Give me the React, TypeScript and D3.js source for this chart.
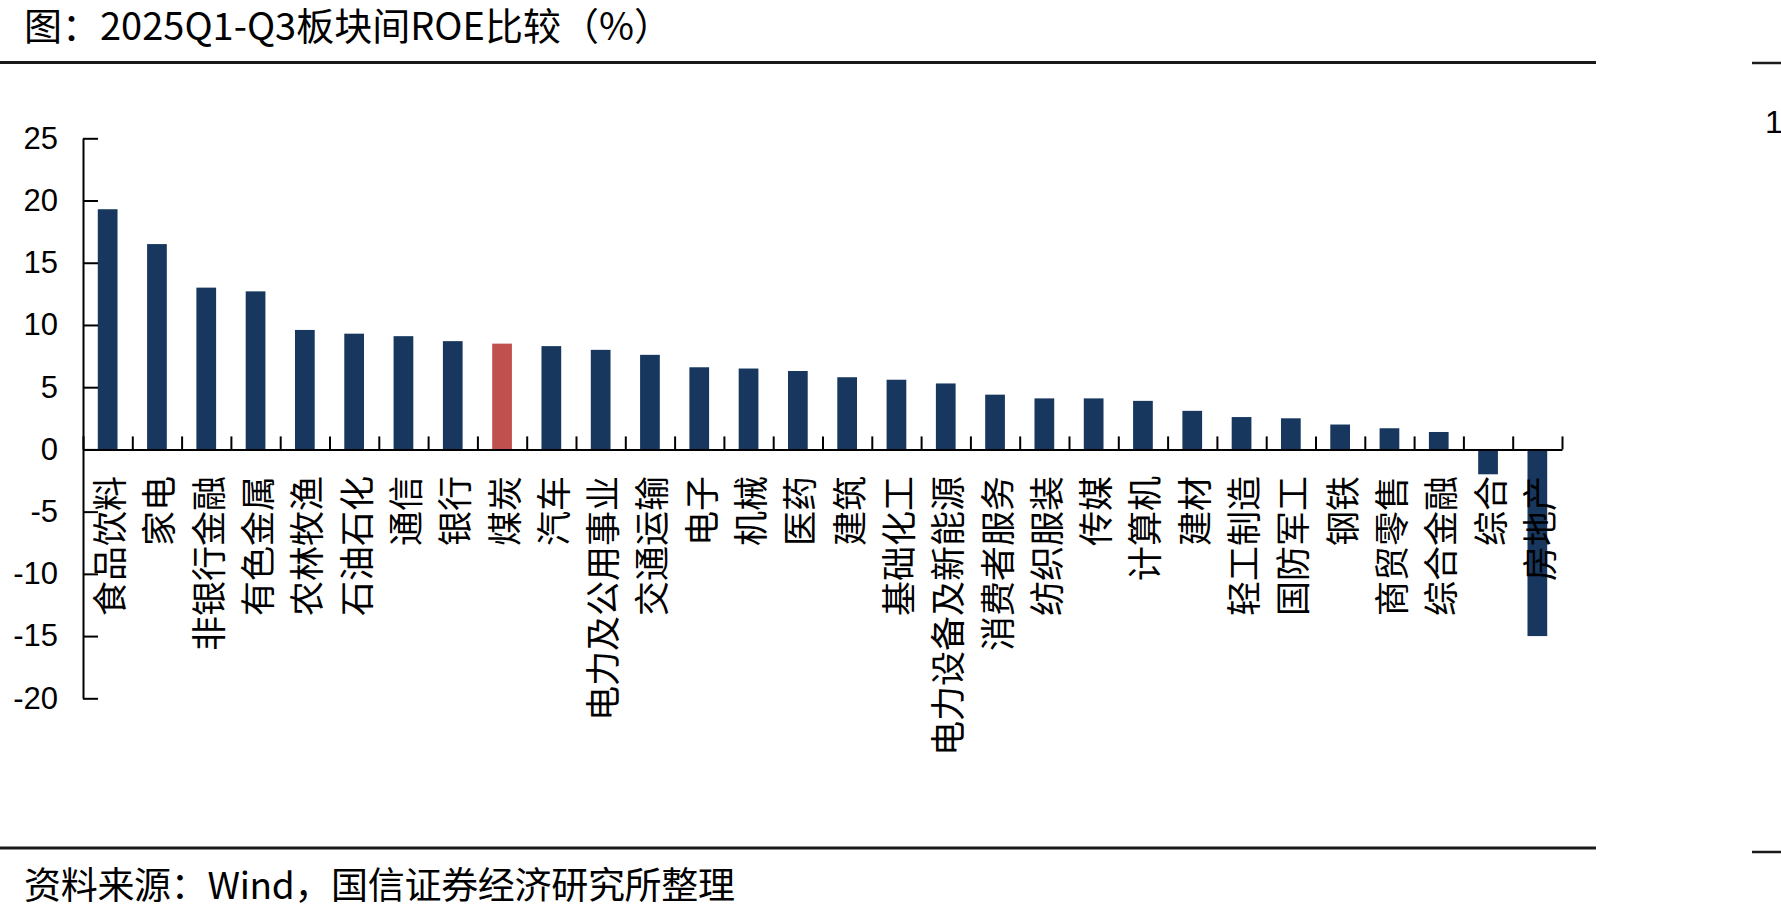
import React, { useEffect, useRef } from 'react';
import * as d3 from 'd3';

const title = '图：2025Q1-Q3板块间ROE比较（%）';
const source = '资料来源：Wind，国信证券经济研究所整理';

const categories = [
  '食品饮料', '家电', '非银行金融', '有色金属', '农林牧渔', '石油石化', '通信', '银行', '煤炭', '汽车',
  '电力及公用事业', '交通运输', '电子', '机械', '医药', '建筑', '基础化工', '电力设备及新能源', '消费者服务', '纺织服装',
  '传媒', '计算机', '建材', '轻工制造', '国防军工', '钢铁', '商贸零售', '综合金融', '综合', '房地产',
];
const roe = [
  19.3, 16.5, 13.0, 12.7, 9.6, 9.3, 9.1, 8.7, 8.5, 8.3,
  8.0, 7.6, 6.6, 6.5, 6.3, 5.8, 5.6, 5.3, 4.4, 4.1,
  4.1, 3.9, 3.1, 2.6, 2.5, 2.0, 1.7, 1.4, -2.0, -15.0,
];
const highlighted = '煤炭';
const yTicks = [25, 20, 15, 10, 5, 0, -5, -10, -15, -20];

const cjk = '"Noto Sans CJK SC", sans-serif';
const arial = '"Liberation Sans", Arial, sans-serif';
const navy = '#17375E';
const red = '#C0504D';

const App: React.FC = () => {
  const svgRef = useRef<SVGSVGElement>(null);

  useEffect(() => {
    const width = 1781;
    const height = 919;
    const plotLeft = 83;
    const plotRight = 1562;
    const svg = d3.select(svgRef.current)
      .attr('width', width)
      .attr('height', height)
      .attr('viewBox', [0, 0, width, height]);

    svg.selectAll('*').remove();

    const x = d3.scaleBand<string>().domain(categories).range([plotLeft, plotRight]).padding(0);
    const y = d3.scaleLinear().domain([-20, 25]).range([698.3, 138.3]);
    const barW = x.bandwidth() * 0.4;

    // title + rules
    svg.append('text')
      .attr('x', 24).attr('y', 40)
      .attr('font-family', cjk).attr('font-size', 38)
      .attr('textLength', 648)
      .text(title);
    svg.append('line').attr('x1', 0).attr('x2', 1596).attr('y1', 62.5).attr('y2', 62.5)
      .attr('stroke', '#1a1a1a').attr('stroke-width', 3);
    svg.append('line').attr('x1', 1752).attr('x2', width).attr('y1', 63).attr('y2', 63)
      .attr('stroke', '#1a1a1a').attr('stroke-width', 2.5);
    svg.append('text')
      .attr('x', 1765).attr('y', 133)
      .attr('font-family', arial).attr('font-size', 32)
      .text('1');

    // bars
    svg.append('g')
      .selectAll('rect')
      .data(categories)
      .join('rect')
      .attr('x', d => x(d)! + (x.bandwidth() - barW) / 2)
      .attr('width', barW)
      .attr('y', (d, i) => y(Math.max(0, roe[i])))
      .attr('height', (d, i) => Math.abs(y(roe[i]) - y(0)))
      .attr('fill', d => d === highlighted ? red : navy);

    // y axis
    const axisy = svg.append('g')
      .attr('transform', `translate(${plotLeft},0)`)
      .call(d3.axisLeft(y).tickValues(yTicks).tickSizeInner(-15).tickSizeOuter(0).tickPadding(25).tickFormat(d => String(d)));
    axisy.selectAll('path, line').attr('stroke', 'black').attr('stroke-width', 2);
    axisy.selectAll('text')
      .attr('fill', 'black')
      .attr('font-family', arial)
      .attr('font-size', 31);

    // x axis: ticks sit between the categories
    const xi = d3.scaleLinear().domain([0, categories.length]).range([plotLeft, plotRight]);
    const axisx = svg.append('g')
      .attr('transform', `translate(0,${y(0)})`)
      .call(d3.axisBottom(xi).tickValues(d3.range(categories.length + 1)).tickSizeInner(-13).tickSizeOuter(0).tickFormat(() => ''));
    axisx.selectAll('path, line').attr('stroke', 'black').attr('stroke-width', 2);

    // category labels, rotated to read bottom-to-top, ends aligned under the axis
    svg.append('g')
      .attr('font-family', cjk)
      .attr('font-size', 35)
      .attr('text-anchor', 'end')
      .selectAll('text')
      .data(categories)
      .join('text')
      .attr('transform', d => `translate(${x(d)! + x.bandwidth() / 2},476) rotate(-90)`)
      .attr('dominant-baseline', 'central')
      .text(d => d);

    // source
    svg.append('line').attr('x1', 0).attr('x2', 1596).attr('y1', 848).attr('y2', 848)
      .attr('stroke', '#1a1a1a').attr('stroke-width', 3);
    svg.append('line').attr('x1', 1752).attr('x2', width).attr('y1', 852).attr('y2', 852)
      .attr('stroke', '#1a1a1a').attr('stroke-width', 2.5);
    svg.append('text')
      .attr('x', 24).attr('y', 899)
      .attr('font-family', cjk).attr('font-size', 37)
      .attr('textLength', 711)
      .text(source);
  }, []);

  return <svg ref={svgRef} style={{ position: 'absolute', left: 0, top: 0 }}></svg>;
};

export default App;
